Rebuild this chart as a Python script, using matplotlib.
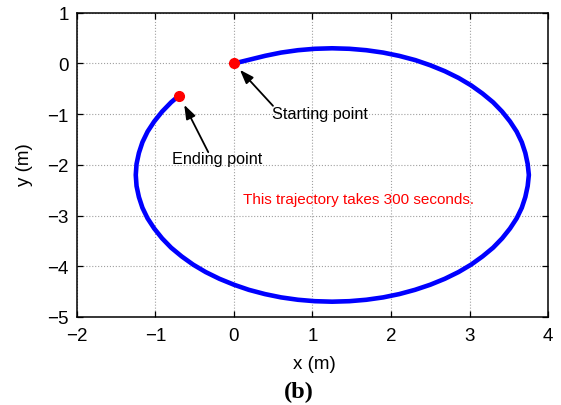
import matplotlib
matplotlib.use("Agg")
import matplotlib.pyplot as plt

plt.rcParams['font.family'] = ['Liberation Sans', 'DejaVu Sans']

# trajectory (clockwise from the starting point)
traj_x = [0.0, 0.19, 0.40, 0.60, 0.815, 1.03, 1.25, 1.47, 1.685, 1.90, 2.105, 2.31, 2.50,
          2.685, 2.86, 3.02, 3.165, 3.30, 3.415, 3.515, 3.60, 3.665, 3.71, 3.74, 3.755,
          3.74, 3.71, 3.665, 3.60, 3.515, 3.415, 3.30, 3.165, 3.02, 2.86, 2.685, 2.50,
          2.305, 2.105, 1.90, 1.685, 1.47, 1.25, 1.03, 0.815, 0.60, 0.395, 0.19, 0.0,
          -0.185, -0.36, -0.52, -0.665, -0.80, -0.915, -1.015, -1.10, -1.165, -1.21, -1.24,
          -1.25, -1.24, -1.21, -1.165, -1.10, -1.015, -0.915, -0.80, -0.70]
traj_y = [0.0, 0.072, 0.152, 0.215, 0.262, 0.29, 0.30, 0.29, 0.262, 0.215, 0.15, 0.066,
          -0.035, -0.152, -0.285, -0.432, -0.593, -0.766, -0.95, -1.144, -1.345, -1.553,
          -1.765, -1.982, -2.20, -2.418, -2.635, -2.847, -3.055, -3.256, -3.45, -3.634,
          -3.807, -3.968, -4.115, -4.248, -4.365, -4.466, -4.55, -4.615, -4.662, -4.69, -4.70,
          -4.69, -4.662, -4.615, -4.55, -4.466, -4.365, -4.248, -4.115, -3.968, -3.807,
          -3.634, -3.45, -3.256, -3.055, -2.847, -2.635, -2.418, -2.20, -1.982, -1.765,
          -1.553, -1.345, -1.144, -0.95, -0.766, -0.635]
start_pt = (0.0, 0.0)
end_pt = (-0.70, -0.635)

xticks = [-2, -1, 0, 1, 2, 3, 4]
yticks = [1, 0, -1, -2, -3, -4, -5]

def fmt(t):
    return '\u2212' + str(-t) if t < 0 else str(t)

fig = plt.figure(figsize=(5.61, 4.06), dpi=100)
ax = fig.add_axes([0.137, 0.217, 0.840, 0.749])

ax.plot(traj_x, traj_y, color='#0000ff', lw=3.3, solid_capstyle='round',
        solid_joinstyle='round', zorder=3)
ax.plot([start_pt[0]], [start_pt[1]], 'o', color='red', ms=7, zorder=4)
ax.plot([end_pt[0]], [end_pt[1]], 'o', color='red', ms=7, zorder=4)

arrow_kw = dict(arrowstyle='-|>,head_length=0.7,head_width=0.25', color='black', lw=1.3,
                shrinkA=0, shrinkB=0, mutation_scale=12)
ax.annotate('', xy=(0.076, -0.125), xytext=(0.497, -0.835), arrowprops=arrow_kw)
ax.annotate('', xy=(-0.633, -0.816), xytext=(-0.327, -1.75), arrowprops=arrow_kw)
ax.text(1.096, -0.993, 'Starting point', fontsize=11.7, ha='center', va='center')
ax.text(-0.216, -1.88, 'Ending point', fontsize=11.7, ha='center', va='center')
ax.text(0.115, -2.67, 'This trajectory takes 300 seconds.', color='red', fontsize=11,
        ha='left', va='center')

ax.set_xlim(-2, 4)
ax.set_ylim(-5, 1)
ax.set_xticks(xticks)
ax.set_yticks(yticks)
ax.set_xticklabels([fmt(t) for t in xticks])
ax.set_yticklabels([fmt(t) for t in yticks])
ax.tick_params(direction='in', top=True, right=True, labelsize=13.5, length=4, width=0.9)
ax.tick_params(axis='x', pad=7)
ax.tick_params(axis='y', pad=6)
ax.grid(True, linestyle=':', color='#a0a0a0', lw=0.8)
for s in ax.spines.values():
    s.set_linewidth(1.1)
ax.set_xlabel('x (m)', fontsize=13.5)
ax.set_ylabel('y (m)', fontsize=13.5)
ax.xaxis.set_label_coords(0.503, -0.125)
ax.yaxis.set_label_coords(-0.093, 0.503)
fig.text(0.532, 0.034, '(b)', fontsize=17.5, fontweight='bold', family='Liberation Serif',
         ha='center', va='center')

fig.savefig('out.png', dpi=100)
